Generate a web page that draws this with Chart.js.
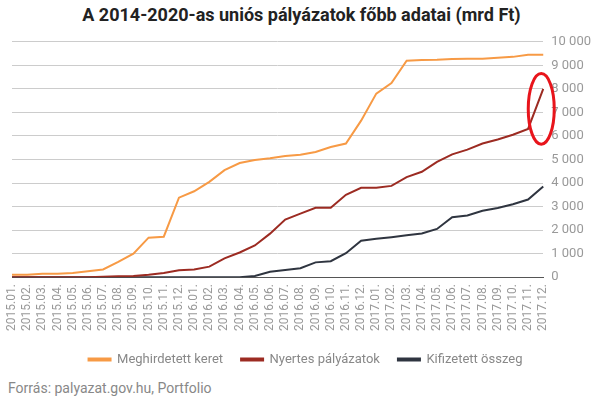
<!DOCTYPE html>
<html><head><meta charset="utf-8">
<script src="https://cdn.jsdelivr.net/npm/chart.js@4"></script>
<style>
body{margin:0;background:#fff;font-family:Roboto,sans-serif;}
#wrap{position:relative;width:603px;height:407px;}
h1{position:absolute;top:4px;left:0;width:603px;margin:0;text-align:center;font-size:18px;font-weight:bold;color:#222;}
#src{position:absolute;left:8px;top:380px;font-size:14px;color:#888;}
canvas{position:absolute;left:0;top:26px;}
</style></head><body>
<div id="wrap">
<h1>A 2014-2020-as uniós pályázatok főbb adatai (mrd Ft)</h1>
<canvas id="c" width="603" height="350"></canvas>
<div id="src">Forrás: palyazat.gov.hu, Portfolio</div>
</div>
<script>
const months = [];
for (let y = 2015; y <= 2017; y++) for (let m = 1; m <= 12; m++) months.push(y + '.' + String(m).padStart(2, '0') + '.');

const meghirdetett = [100,100,150,150,180,250,330,650,1000,1680,1720,3380,3650,4050,4550,4850,4980,5050,5150,5200,5320,5530,5680,6650,7800,8250,9200,9230,9240,9270,9280,9280,9320,9360,9450,9450];
const nyertes = [0,0,0,0,0,0,20,40,50,100,180,300,330,450,800,1050,1350,1850,2450,2700,2950,2950,3500,3800,3800,3880,4250,4480,4900,5220,5420,5680,5850,6050,6300,8000];
const kifizetett = [0,0,0,0,0,0,0,0,0,0,0,0,0,0,0,0,50,230,310,380,630,680,1020,1550,1630,1700,1780,1860,2050,2550,2620,2820,2940,3100,3300,3850];

const ellipsePlugin = {
  id: 'ellipse',
  afterDatasetsDraw(chart) {
    const ctx = chart.ctx, x = chart.scales.x, y = chart.scales.y;
    const cx = x.getPixelForValue(35) - 2, cy = y.getPixelForValue(7150);
    ctx.save();
    ctx.strokeStyle = '#e8141b';
    ctx.lineWidth = 3;
    ctx.beginPath();
    ctx.ellipse(cx, cy, 13, (y.getPixelForValue(5800) - y.getPixelForValue(8800)) / 2, 0, 0, Math.PI * 2);
    ctx.stroke();
    ctx.restore();
  }
};

// month labels drawn by hand so none get skipped
const monthLabels = {
  id: 'monthLabels',
  afterDraw(chart) {
    const ctx = chart.ctx, x = chart.scales.x;
    ctx.save();
    ctx.fillStyle = '#999';
    ctx.font = '12px Roboto';
    ctx.textAlign = 'right';
    ctx.textBaseline = 'middle';
    months.forEach((m, i) => {
      ctx.save();
      ctx.translate(x.getPixelForValue(i), x.top + 7);
      ctx.rotate(-Math.PI / 2);
      ctx.fillText(m, 0, 0);
      ctx.restore();
    });
    ctx.restore();
  }
};

new Chart(document.getElementById('c'), {
  type: 'line',
  data: {
    labels: months,
    datasets: [
      { label: 'Meghirdetett keret', data: meghirdetett, borderColor: '#f79a45', backgroundColor: '#f79a45' },
      { label: 'Nyertes pályázatok', data: nyertes, borderColor: '#9c2b22', backgroundColor: '#9c2b22' },
      { label: 'Kifizetett összeg', data: kifizetett, borderColor: '#2f3540', backgroundColor: '#2f3540' }
    ]
  },
  options: {
    responsive: false,
    animation: false,
    layout: { padding: { left: 12, right: 4, top: 3 } },
    elements: { point: { radius: 0 }, line: { borderWidth: 2, tension: 0 } },
    plugins: {
      legend: {
        position: 'bottom',
        labels: { boxWidth: 22, boxHeight: 2, color: '#888', font: { family: 'Roboto', size: 13 }, padding: 18 }
      },
      tooltip: { enabled: false }
    },
    scales: {
      x: {
        offset: false,
        grid: { display: false, drawTicks: true, tickLength: 5 },
        border: { color: '#555' },
        ticks: { autoSkip: false, maxRotation: 90, minRotation: 90, color: 'rgba(0,0,0,0)', font: { family: 'Roboto', size: 12 } }
      },
      y: {
        position: 'right', min: 0, max: 10000,
        grid: { color: '#ccc', drawTicks: false },
        border: { display: false },
        ticks: { stepSize: 1000, color: '#999', padding: 8, font: { family: 'Roboto', size: 13 },
          callback: v => v.toString().replace(/\B(?=(\d{3})+(?!\d))/g, ' ') }
      }
    }
  },
  plugins: [ellipsePlugin, monthLabels]
});
</script>
</body></html>
